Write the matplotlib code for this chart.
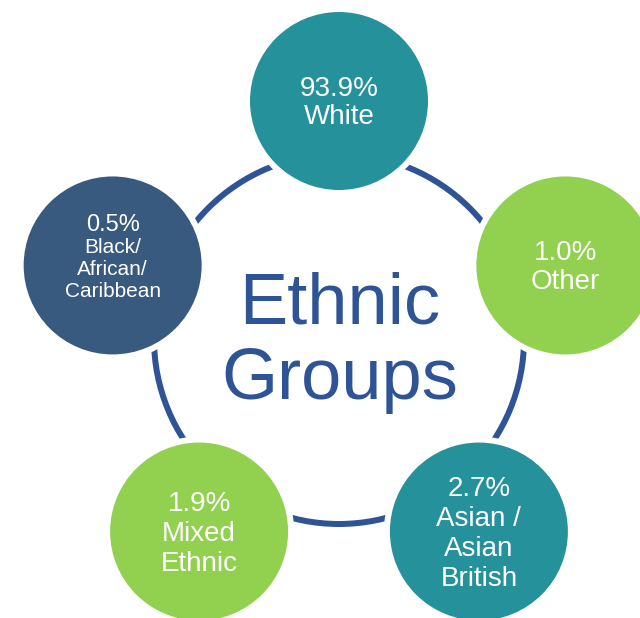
import matplotlib
matplotlib.use("Agg")
import matplotlib.pyplot as plt
from matplotlib.patches import Circle
import numpy as np

# data, clockwise from the top
groups = ["White", "Other", "Asian /\nAsian\nBritish", "Mixed\nEthnic", "Black/\nAfrican/\nCaribbean"]
shares = [93.9, 1.0, 2.7, 1.9, 0.5]
colors = ["#25919B", "#92D050", "#25919B", "#92D050", "#385A7F"]
title = "Ethnic\nGroups"

plt.rcParams['font.family'] = ['Liberation Sans', 'DejaVu Sans']

W, H = 640, 618
fig = plt.figure(figsize=(W / 100, H / 100), dpi=100)
ax = fig.add_axes([0, 0, 1, 1])
ax.set_xlim(0, W)
ax.set_ylim(H, 0)
ax.set_aspect('equal')
ax.axis('off')

pt = 72 / 100  # pixels -> points
cx, cy = 339, 339
ring_r, orbit_r, bubble_r = 185, 238, 92
ring_color = "#2F5496"

ax.add_patch(Circle((cx, cy), ring_r, facecolor='white', edgecolor=ring_color,
                    lw=6 * pt, zorder=1))

# title inside the ring
for i, line in enumerate(title.split("\n")):
    ax.text(cx + 1, 324 + i * 75, line, fontsize=52, color=ring_color,
            ha='center', va='baseline', zorder=3)

angles = np.deg2rad(90 - 72 * np.arange(len(groups)))
for k, (name, val, col) in enumerate(zip(groups, shares, colors)):
    x = cx + orbit_r * np.cos(angles[k])
    y = cy - orbit_r * np.sin(angles[k])
    ax.add_patch(Circle((x, y), bubble_r, facecolor=col, edgecolor='white',
                        lw=6 * pt, zorder=2))
    lines = [f"{val:.1f}%"] + name.split("\n")
    small = len(lines) > 3 and col == "#385A7F"
    if small:
        sizes = [17] + [15] * (len(lines) - 1)
        step = 22
        shift = -1
    else:
        sizes = [20] * len(lines)
        step = 30 if len(lines) > 2 else 29
        shift = 9
    n = len(lines)
    for i, (line, fs) in enumerate(zip(lines, sizes)):
        by = y + (i - (n - 1) / 2) * step + shift
        ax.text(x, by, line, fontsize=fs, color='white', ha='center',
                va='baseline', zorder=3)

fig.savefig("out.png", dpi=100)
